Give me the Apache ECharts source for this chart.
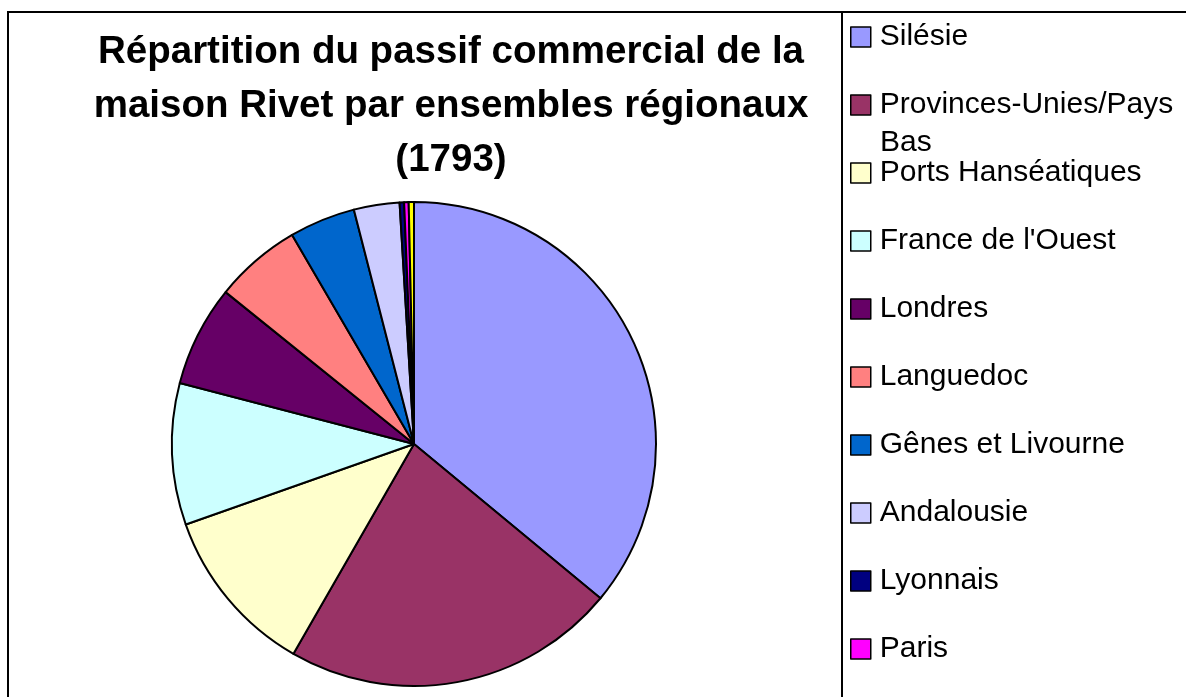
<!DOCTYPE html>
<html>
<head>
<meta charset="utf-8">
<script src="https://cdn.jsdelivr.net/npm/echarts@6/dist/echarts.min.js"></script>
<style>
  html, body { margin: 0; padding: 0; background: #fff; }
  #main { width: 1186px; height: 697px; }
</style>
</head>
<body>
<div id="main"></div>
<script>
// données (parts en %)
var regions = ['Silésie', 'Provinces-Unies/Pays Bas', 'Ports Hanséatiques', "France de l'Ouest",
  'Londres', 'Languedoc', 'Gênes et Livourne', 'Andalousie', 'Lyonnais', 'Paris', ''];
var parts = [36.0, 22.3, 11.3, 9.45, 6.75, 5.8, 4.4, 3.05, 0.3, 0.3, 0.35];
var couleurs = ['#9999FF', '#993366', '#FFFFCC', '#CCFFFF', '#660066', '#FF8080',
  '#0066CC', '#CCCCFF', '#000080', '#FF00FF', '#FFFF00'];
var titre = 'Répartition du passif commercial de la\nmaison Rivet par ensembles régionaux\n(1793)';

var police = 'Liberation Sans, Arial, sans-serif';
var chart = echarts.init(document.getElementById('main'));

var data = regions.map(function (n, i) {
  return { name: n, value: parts[i], itemStyle: { color: couleurs[i] } };
});

// une légende par entrée pour garder l'espacement régulier d'Excel
var legendes = regions.filter(function (n) { return n !== ''; }).map(function (n, i) {
  return {
    data: [n],
    orient: 'vertical',
    left: 850,
    top: 36 + 68 * i - 16,
    padding: 0,
    itemWidth: 20,
    itemHeight: 20,
    icon: 'rect',
    selectedMode: false,
    itemStyle: { borderColor: '#000', borderWidth: 1.5 },
    formatter: function (name) {
      return name === 'Provinces-Unies/Pays Bas' ? 'Provinces-Unies/Pays' : name;
    },
    textStyle: { fontFamily: police, fontSize: 30, lineHeight: 32, color: '#000', padding: [2, 0, 0, 4] }
  };
});

var option = {
  animation: false,
  backgroundColor: '#fff',
  legend: legendes,
  graphic: [
    { type: 'rect', shape: { x: 8, y: 12, width: 1300, height: 800 },
      style: { fill: null, stroke: '#000', lineWidth: 2 }, silent: true },
    { type: 'line', shape: { x1: 842, y1: 12, x2: 842, y2: 697 },
      style: { stroke: '#000', lineWidth: 2 }, silent: true },
    { type: 'text', x: 451, y: 106, silent: true,
      style: { text: titre, fontFamily: police, fontWeight: 'bold', fontSize: 38.5, lineHeight: 54,
        fill: '#000', align: 'center', verticalAlign: 'middle' } },
    { type: 'text', x: 880, y: 143, silent: true,
      style: { text: 'Bas', fontFamily: police, fontSize: 30, fill: '#000', align: 'left', verticalAlign: 'middle' } }
  ],
  series: [{
    type: 'pie',
    center: [414, 444],
    radius: 242,
    startAngle: 90,
    clockwise: true,
    label: { show: false },
    labelLine: { show: false },
    emphasis: { disabled: true },
    itemStyle: { borderColor: '#000', borderWidth: 2 },
    data: data
  }]
};

chart.setOption(option);
</script>
</body>
</html>
